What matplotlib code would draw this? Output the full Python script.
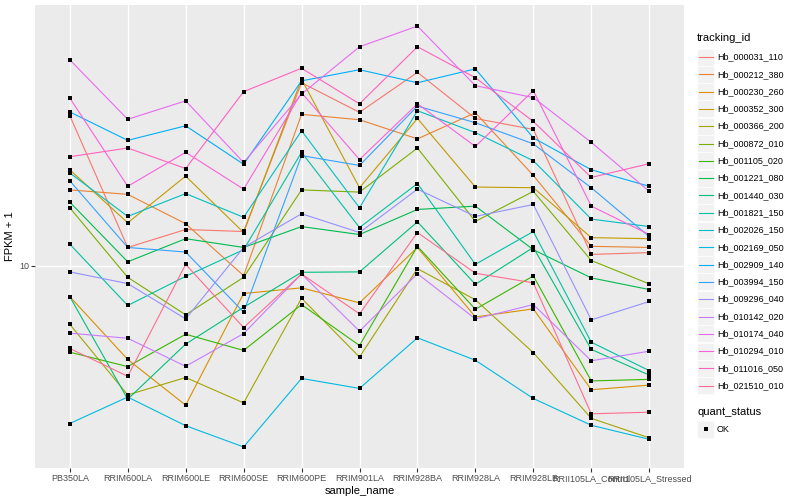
import matplotlib
matplotlib.use("Agg")
import matplotlib.pyplot as plt
from matplotlib.patches import Rectangle
from matplotlib.lines import Line2D

plt.rcParams['font.family'] = ['Liberation Sans', 'DejaVu Sans']

samples = ["PB350LA", "RRIM600LA", "RRIM600LE", "RRIM600SE", "RRIM600PE", "RRIM901LA",
           "RRIM928BA", "RRIM928LA", "RRIM928LB", "RRII105LA_Control", "RRII105LA_Stressed"]

# FPKM + 1 per gene, one value per sample
hb_000031_110 = [31.7, 11.5, 13.2, 13.0, 40.8, 32.5, 44.2, 31.0, 28.5, 10.9, 11.05]
hb_000212_380 = [17.9, 17.3, 13.8, 9.26, 32.0, 30.7, 26.5, 32.4, 20.0, 11.6, 11.5]
hb_000230_260 = [7.88, 4.86, 3.42, 8.07, 8.43, 7.51, 11.5, 6.74, 7.17, 3.85, 3.99]
hb_000352_300 = [20.9, 13.9, 19.9, 12.9, 41.9, 18.2, 31.0, 18.3, 18.2, 12.4, 12.3]
hb_000366_200 = [6.37, 3.70, 4.23, 3.48, 7.78, 4.95, 9.77, 7.69, 5.12, 3.09, 2.66]
hb_000872_010 = [15.6, 9.14, 6.85, 9.14, 17.9, 17.6, 24.7, 14.05, 17.7, 10.4, 8.69]
hb_001105_020 = [5.14, 4.60, 5.90, 5.21, 7.41, 5.41, 11.6, 7.15, 9.24, 4.12, 4.17]
hb_001221_080 = [16.3, 10.3, 12.3, 11.5, 13.5, 12.7, 15.4, 15.8, 11.3, 9.10, 8.32]
hb_001440_030 = [7.88, 3.58, 5.47, 7.26, 9.50, 9.53, 14.0, 8.66, 11.5, 5.25, 4.31]
hb_001821_150 = [11.8, 7.36, 9.21, 11.3, 23.9, 13.4, 18.8, 10.1, 13.0, 5.55, 4.46]
hb_002026_150 = [20.4, 14.6, 17.4, 14.5, 28.2, 15.6, 32.9, 27.8, 22.4, 14.3, 13.5]
hb_002169_050 = [2.97, 3.64, 2.92, 2.48, 4.20, 3.89, 5.74, 4.83, 3.60, 2.93, 2.63]
hb_002909_140 = [32.6, 26.2, 29.3, 21.8, 41.4, 45.1, 40.8, 45.4, 26.7, 20.9, 18.4]
hb_003994_150 = [19.2, 11.5, 11.1, 6.99, 23.3, 21.6, 34.1, 30.0, 25.5, 18.2, 12.5]
hb_009296_040 = [9.53, 8.71, 6.64, 11.5, 14.9, 12.9, 18.0, 14.6, 16.0, 6.59, 7.59]
hb_010142_020 = [5.95, 5.72, 4.61, 5.93, 9.38, 6.04, 9.40, 6.64, 7.41, 4.81, 5.18]
hb_010174_040 = [48.7, 30.8, 35.5, 22.1, 37.4, 53.8, 63.1, 39.9, 36.4, 25.8, 17.7]
hb_010294_010 = [36.3, 18.4, 23.9, 18.0, 37.8, 22.6, 34.7, 25.0, 38.4, 15.8, 12.7]
hb_011016_050 = [23.1, 24.7, 21.1, 38.1, 45.6, 34.7, 53.8, 42.4, 30.3, 19.7, 21.9]
hb_021510_010 = [5.29, 4.27, 10.1, 6.21, 9.38, 6.90, 12.9, 9.43, 8.76, 3.20, 3.24]

genes = ["Hb_000031_110", "Hb_000212_380", "Hb_000230_260", "Hb_000352_300", "Hb_000366_200",
         "Hb_000872_010", "Hb_001105_020", "Hb_001221_080", "Hb_001440_030", "Hb_001821_150",
         "Hb_002026_150", "Hb_002169_050", "Hb_002909_140", "Hb_003994_150", "Hb_009296_040",
         "Hb_010142_020", "Hb_010174_040", "Hb_010294_010", "Hb_011016_050", "Hb_021510_010"]
series = [hb_000031_110, hb_000212_380, hb_000230_260, hb_000352_300, hb_000366_200,
          hb_000872_010, hb_001105_020, hb_001221_080, hb_001440_030, hb_001821_150,
          hb_002026_150, hb_002169_050, hb_002909_140, hb_003994_150, hb_009296_040,
          hb_010142_020, hb_010174_040, hb_010294_010, hb_011016_050, hb_021510_010]
# ggplot hue palette, 20 levels
colors = ["#F8766D", "#EA8331", "#D89000", "#C09B00", "#A3A500", "#7CAE00", "#39B600",
          "#00BB4E", "#00BF7D", "#00C1A3", "#00BFC4", "#00BAE0", "#00B0F6", "#35A2FF",
          "#9590FF", "#C77CFF", "#E76BF3", "#FA62DB", "#FF62BC", "#FF6C91"]

fig = plt.figure(figsize=(8, 5), dpi=100)
ax = fig.add_axes([35 / 800, 1 - 468 / 500, (684 - 35) / 800, (468 - 5) / 500])
ax.set_facecolor("#EBEBEB")

x = list(range(len(samples)))
for vals, c in zip(series, colors):
    ax.plot(x, vals, color=c, lw=0.8, zorder=2)
for vals in series:
    ax.plot(x, vals, ls="none", marker="s", ms=2.4, mew=0, color="black", zorder=3)

ax.set_yscale("log")
ax.margins(y=0.05)
ax.set_xlim(-0.6, len(samples) - 0.4)
ax.set_yticks([10])
ax.set_yticklabels(["10"])
ax.minorticks_off()
ax.set_xticks(x)
ax.set_xticklabels(samples)
ax.grid(True, color="white", lw=1.0, zorder=0)
ax.set_axisbelow(True)
for s in ax.spines.values():
    s.set_visible(False)
ax.tick_params(length=2.8, width=0.8, color="#333333", labelcolor="#4D4D4D",
               labelsize=6.5, pad=1.5)
ax.set_xlabel("sample_name", fontsize=8, labelpad=2)
ax.set_ylabel("FPKM + 1", fontsize=8, labelpad=3)

# legend drawn in pixel space, ggplot style
lg = fig.add_axes([0, 0, 1, 1])
lg.set_xlim(0, 800)
lg.set_ylim(500, 0)
lg.axis("off")
lg.text(697, 38, "tracking_id", fontsize=8, va="center", ha="left")
step = 17.3
for i, (g, c) in enumerate(zip(genes, colors)):
    cy = 57 + i * step
    lg.add_patch(Rectangle((697, cy - 8.5), 17, 17, facecolor="#F2F2F2", edgecolor="white", lw=0.5))
    lg.add_line(Line2D([698.5, 712.5], [cy, cy], color=c, lw=0.8))
    lg.text(717, cy, g, fontsize=6.5, va="center", ha="left")
lg.text(697, 412, "quant_status", fontsize=8, va="center", ha="left")
lg.add_patch(Rectangle((697, 429 - 8.5), 17, 17, facecolor="#F2F2F2", edgecolor="white", lw=0.5))
lg.plot([705.5], [429], marker="s", ms=2.4, mew=0, color="black")
lg.text(717, 429, "OK", fontsize=6.5, va="center", ha="left")

fig.savefig("out.png", dpi=100)
